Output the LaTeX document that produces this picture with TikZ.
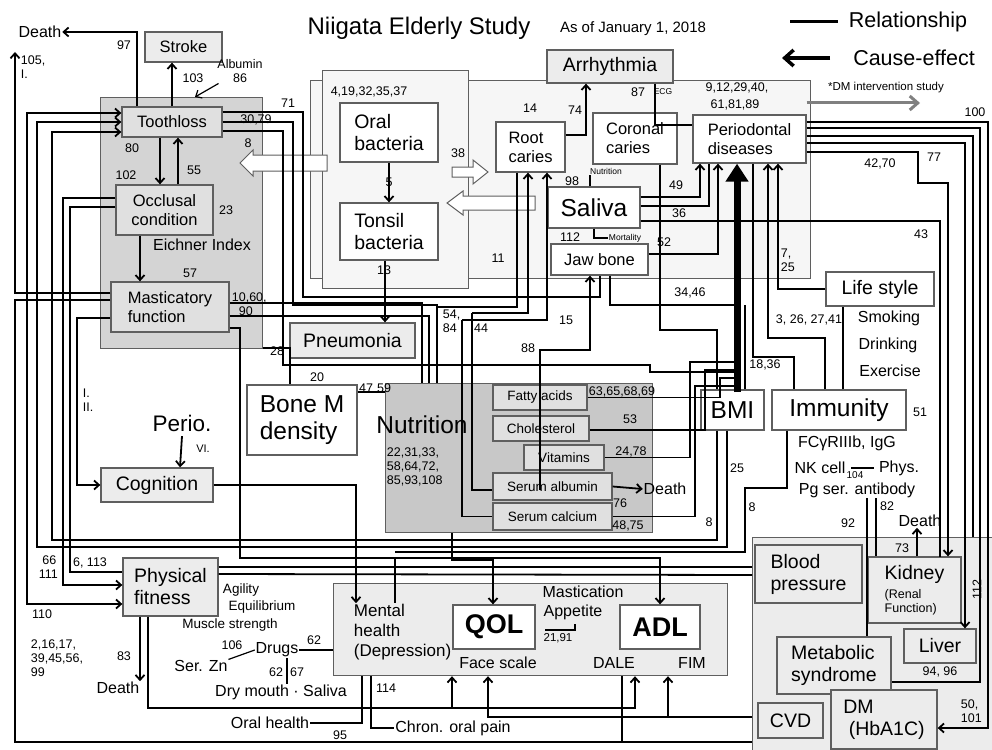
\documentclass[tikz,border=0pt]{standalone}
\usepackage{fontspec}
\setmainfont{Liberation Sans}
\usetikzlibrary{arrows.meta, positioning, calc}
\definecolor{panelgray}{RGB}{212,212,212}
\definecolor{boxgray}{RGB}{224,224,224}
\definecolor{lightfill}{RGB}{236,236,236}
\definecolor{palefill}{RGB}{246,246,246}
\definecolor{nutgray}{RGB}{200,200,200}
\definecolor{edgegray}{RGB}{95,95,95}

\begin{document}
\begin{tikzpicture}[x=1pt, y=-1pt, line width=1.8pt,
	>={Straight Barb[length=5pt,width=9pt]},
	box/.style={draw=edgegray, line width=1.3pt, fill=#1, inner sep=0pt, align=center},
	box/.default=white,
	panel/.style={draw=edgegray, line width=1.2pt, fill=#1, inner sep=0pt, anchor=north west},
	lbl/.style={inner sep=0pt, font=\fontsize{12.5}{14}\selectfont, align=left},
	tiny/.style={inner sep=0pt, font=\fontsize{8.5}{9}\selectfont},
	txt/.style={inner sep=0pt, font=\fontsize{16}{19}\selectfont, align=left},
	mid/.style={font=\fontsize{16.5}{19}\selectfont},
	big/.style={font=\fontsize{19.5}{22}\selectfont},
	huge/.style={font=\fontsize{24.5}{27}\selectfont},
	hollow/.style={draw=edgegray, line width=1pt, fill=white},
]
	\useasboundingbox (0,0) rectangle (992,749);

	% panels
	\node[panel=panelgray, minimum width=162, minimum height=251] (tpanel) at (100,97) {};
	\node[panel=palefill, minimum width=500, minimum height=198] (cpanel) at (310,80) {};
	\node[panel=palefill, minimum width=146, minimum height=218] (bpanel) at (322,70) {};
	\node[panel=nutgray, minimum width=267, minimum height=149] (npanel) at (385,383) {};
	\node[panel=lightfill, minimum width=394, minimum height=92] (qpanel) at (333,583) {};
	\node[panel=lightfill, minimum width=250, minimum height=220] (rpanel) at (752,537) {};

	% title and legend
	\node[inner sep=0pt, font=\fontsize{24}{26}\selectfont] (title) at (419,28) {Niigata Elderly Study};
	\node[inner sep=0pt, font=\fontsize{15}{17}\selectfont] (asof) at (633,29) {As of January 1, 2018};
	\node[inner sep=0pt, font=\fontsize{21.5}{24}\selectfont] (rel) at (908,22) {Relationship};
	\node[inner sep=0pt, font=\fontsize{21.5}{24}\selectfont] (cause) at (914,58) {Cause-effect};
	\coordinate (relA) at (790,22);
	\draw[line width=3pt] (relA) -- (rel.west -| 838,0);
	\draw[line width=3.5pt, -{Straight Barb[length=9pt,width=16pt]}] (cause.west -| 830,0) -- (782,58);
	\node[inner sep=0pt, font=\fontsize{11.5}{13}\selectfont] (dmint) at (886,88) {*DM intervention study};

	% boxes of the oral panel
	\node[box=boxgray, minimum width=100, minimum height=30, mid] (tooth) at (172,122) {Toothloss};
	\node[box=lightfill, minimum width=77, minimum height=30, mid] (stroke) at (183.5,47) {Stroke};
	\node[box=boxgray, minimum width=97, minimum height=50, mid] (occl) at (164.5,210) {Occlusal\\condition};
	\node[box=boxgray, minimum width=118, minimum height=50, mid, align=left] (mast) at (170,307) {Masticatory\\function};
	\node[box=lightfill, minimum width=112, minimum height=34, big] (cogn) at (157,485) {Cognition};
	\node[box=lightfill, minimum width=95, minimum height=58, big, align=left] (phys) at (170.5,587) {Physical\\fitness};
	\node[box=lightfill, minimum width=125, minimum height=35, big] (pneu) at (352.5,340.5) {Pneumonia};
	\node[box, minimum width=110, minimum height=70, huge, align=left] (bone) at (302,420) {Bone M\\density};
	\node[box, minimum width=98, minimum height=59, big, align=left] (oral) at (389,132.5) {Oral\\bacteria};
	\node[box, minimum width=98, minimum height=57, big, align=left] (tonsil) at (389,231.5) {Tonsil\\bacteria};
	\node[box=lightfill, minimum width=126, minimum height=33, big] (arrh) at (610,66.5) {Arrhythmia};
	\node[box, minimum width=69, minimum height=50, mid, align=left] (root) at (530.5,147) {Root\\caries};
	\node[box, minimum width=84, minimum height=51, mid, align=left] (coron) at (635,138.5) {Coronal\\caries};
	\node[box, minimum width=113, minimum height=48, mid, align=left] (perio) at (749.5,139) {Periodontal\\diseases};
	\node[box, minimum width=92, minimum height=41, huge] (saliva) at (594,207.5) {Saliva};
	\node[box, minimum width=97, minimum height=31, mid] (jaw) at (599.5,259.5) {Jaw bone};
	\node[box, minimum width=108, minimum height=34, big] (life) at (880,289) {Life style};
	\node[box, minimum width=63, minimum height=40, huge] (bmi) at (732.5,410) {BMI};
	\node[box, minimum width=134, minimum height=40, huge] (immun) at (839,410) {Immunity};
	\draw[gray, line width=3pt, -{Straight Barb[length=8pt,width=14pt]}] (perio.east |- 0,103) -- (920,103);

	% nutrition items
	\node[inner sep=0pt, huge] (nutr) at (422,425) {Nutrition};
	\node[lbl, anchor=north west] (nutnum) at (386,447) {22,31,33,\\58,64,72,\\85,93,108};
	\node[box=boxgray, minimum width=94, minimum height=25, font=\fontsize{13.5}{15}\selectfont] (fatty) at (540,397.5) {Fatty acids};
	\node[box=boxgray, minimum width=96, minimum height=25, font=\fontsize{13.5}{15}\selectfont] (chol) at (541,428.5) {Cholesterol};
	\node[box=boxgray, minimum width=80, minimum height=25, font=\fontsize{13.5}{15}\selectfont] (vitam) at (564,457.5) {Vitamins};
	\node[box=boxgray, minimum width=119, minimum height=27, font=\fontsize{13.5}{15}\selectfont] (album) at (552.5,486.5) {Serum albumin};
	\node[box=boxgray, minimum width=119, minimum height=27, font=\fontsize{13.5}{15}\selectfont] (calc) at (552.5,516.5) {Serum calcium};

	% outcome boxes
	\node[box, minimum width=82, minimum height=44, font=\bfseries\fontsize{27}{29}\selectfont] (qol) at (494,627) {QOL};
	\node[box, minimum width=80, minimum height=44, font=\bfseries\fontsize{27}{29}\selectfont] (adl) at (660,627) {ADL};
	\node[txt, anchor=west, font=\fontsize{17}{20}\selectfont] (mental) at (353,632) {Mental\\health\\(Depression)};

	% systemic boxes
	\node[box=lightfill, minimum width=107, minimum height=58, big, align=left] (blood) at (808.5,574) {Blood\\pressure};
	\node[box=lightfill, minimum width=93, minimum height=66, align=left, font=\fontsize{12.5}{14}\selectfont] (kidney) at (914.5,590) {{\fontsize{19.5}{22}\selectfont Kidney}\\[5pt](Renal\\Function)};
	\node[box=lightfill, minimum width=72, minimum height=34, big] (liver) at (940,646) {Liver};
	\node[box=lightfill, minimum width=114, minimum height=57, big, align=left] (metab) at (834,665.5) {Metabolic\\syndrome};
	\node[box=lightfill, minimum width=106, minimum height=59, big, align=left] (dm) at (884,719.5) {DM\\\ (HbA1C)};
	\node[box=lightfill, minimum width=65, minimum height=35, big] (cvd) at (790.5,720.5) {CVD};

	% hollow arrows
	\draw[hollow] (452,167) -- (473,167) -- (473,160) -- (488,172) -- (473,184) -- (473,177) -- (452,177) -- cycle;
	\draw[hollow] (535,196) -- (463,196) -- (463,191) -- (447,203) -- (463,215) -- (463,210) -- (535,210) -- cycle;
	\draw[hollow] (327,155) -- (253,155) -- (253,150) -- (240,163) -- (253,176) -- (253,171) -- (327,171) -- cycle;

	% free texts
	\node[txt] (dA) at (40,32) {Death};
	\coordinate (dAup) at (15,52);
	\node[lbl] at (124,45) {97};
	\node[lbl] at (193,78) {103};
	\node[lbl, align=center] (alb) at (240,71) {Albumin\\86};
	\node[lbl, anchor=north west] at (20,55) {105,\\I.};
	\node[lbl] at (288,103) {71};
	\node[lbl] at (256,120) {30,79};
	\node[lbl] at (248,143) {8};
	\node[lbl] at (132,148) {80};
	\node[lbl] at (126,175) {102};
	\node[lbl] at (194,170) {55};
	\node[lbl] at (226,210) {23};
	\node[txt] at (202,245) {Eichner Index};
	\node[lbl] at (190,273) {57};
	\node[lbl, anchor=north west] at (231,292) {10,60,\\\ \ 90};
	\node[lbl] at (277,351) {28};
	\node[lbl, anchor=north west] at (82,388) {I.\\II.};
	\node[inner sep=0pt, font=\fontsize{22.5}{25}\selectfont] (perioT) at (182,423) {Perio.};
	\node[lbl, font=\fontsize{11}{12}\selectfont] at (203,449) {VI.};
	\node[lbl] at (369,92) {4,19,32,35,37};
	\node[lbl] at (389,182) {5};
	\node[lbl] at (384,270) {13};
	\node[lbl] at (458,153) {38};
	\node[lbl] at (498,258) {11};
	\node[lbl] at (530,108) {14};
	\node[lbl] at (575,110) {74};
	\node[lbl] at (638,92) {87};
	\node[tiny] at (663,92) {ECG};
	\node[lbl] at (737,88) {9,12,29,40,};
	\node[lbl] at (735,105) {61,81,89};
	\node[lbl] at (572,181) {98};
	\node[tiny] (nutS) at (606,171) {Nutrition};
	\node[lbl] at (570,237) {112};
	\node[tiny] (mortS) at (625,238) {Mortality};
	\node[lbl] at (676,185) {49};
	\node[lbl] at (679,213) {36};
	\node[lbl] at (664,242) {52};
	\node[lbl] at (975,112) {100};
	\node[lbl] at (934,157) {77};
	\node[lbl] at (880,164) {42,70};
	\node[lbl] at (921,234) {43};
	\node[lbl, anchor=north west] at (780,248) {7,\\25};
	\node[lbl] at (690,293) {34,46};
	\node[lbl] at (809,320) {3, 26, 27,41};
	\node[txt] at (889,318) {Smoking};
	\node[txt] at (888,345) {Drinking};
	\node[txt] at (890,371) {Exercise};
	\node[lbl] at (765,365) {18,36};
	\node[lbl] at (920,412) {51};
	\node[lbl] at (737,468) {25};
	\node[txt] at (847,443) {FCγRIIIb, IgG};
	\node[txt] (nk) at (820,468) {NK cell};
	\node[lbl, font=\fontsize{10}{11}\selectfont] (n104) at (855,475) {104};
	\node[txt] (physT) at (899,468) {Phys.};
	\draw[line width=1.2pt] ([xshift=5pt]nk.east) -- ([xshift=-4pt]physT.west);
	\node[txt] (pgab) at (857,490) {Pg ser. antibody};
	\node[lbl] at (887,506) {82};
	\node[lbl] at (848,523) {92};
	\node[lbl] at (902,548) {73};
	\node[txt] (dK) at (920,521) {Death};
	\node[lbl, rotate=90] at (977,590) {112};
	\node[lbl] at (940,672) {94, 96};
	\node[lbl, anchor=north west] at (960,699) {50,\\101};
	\node[lbl, anchor=north west] at (442,309) {54,\\84};
	\node[lbl] at (481,328) {44};
	\node[lbl] at (528,348) {88};
	\node[lbl] at (566,320) {15};
	\node[lbl] at (317,377) {20};
	\node[lbl] at (366,388) {47};
	\node[lbl] at (384,388) {59};
	\node[lbl] at (622,392) {63,65,68,69};
	\node[lbl] at (630,419) {53};
	\node[lbl] at (631,452) {24,78};
	\node[lbl] at (620,503) {76};
	\node[lbl] at (628,526) {48,75};
	\node[txt] (dN) at (665,489) {Death};
	\node[lbl] at (709,522) {8};
	\node[lbl] at (752,507) {8};
	\node[txt] at (583,592) {Mastication};
	\node[txt] at (573,612) {Appetite};
	\node[lbl, font=\fontsize{11.5}{13}\selectfont] at (558,638) {21,91};
	\draw[line width=1.2pt] (545,630) -- (575,630) -- (575,624);
	\node[txt] at (498,663) {Face scale};
	\node[txt] at (614,663) {DALE};
	\node[txt] at (692,663) {FIM};
	\node[lbl, font=\fontsize{13.5}{15}\selectfont] at (241,590) {Agility};
	\node[lbl, font=\fontsize{13.5}{15}\selectfont] at (262,607) {Equilibrium};
	\node[lbl, font=\fontsize{13.5}{15}\selectfont] at (230,625) {Muscle strength};
	\node[lbl] at (232,645) {106};
	\node[txt] (drugs) at (277,650) {Drugs};
	\node[txt] (zn) at (201,666) {Ser. Zn};
	\node[lbl] at (314,640) {62};
	\node[lbl] at (276,672) {62};
	\node[lbl] at (297,672) {67};
	\node[txt] (dry) at (281,692) {Dry mouth · Saliva};
	\node[lbl] at (124,656) {83};
	\node[txt] (dP) at (118,688) {Death};
	\node[lbl, anchor=north west] at (30,639) {2,16,17,\\39,45,56,\\99};
	\node[lbl] at (42,614) {110};
	\node[lbl, anchor=north west] at (38,555) {\ 66\\111};
	\node[lbl] at (90,563) {6, 113};
	\node[lbl] at (386,688) {114};
	\node[txt] (oralh) at (270,723) {Oral health};
	\node[lbl] at (340,735) {95};
	\node[txt] (pain) at (453,728) {Chron. oral pain};

	% connectors: oral panel
	\draw[->] (tooth.north -| 137,0) |- (dA.east);
	\draw[->] (tooth.north -| 172,0) -- (stroke.south -| 172,0);
	\draw[->, line width=1.2pt] ([xshift=2pt]alb.south west) -- (tpanel.north -| 195,0);
	\draw[->] (tooth.south -| 160,0) -- (occl.north -| 160,0);
	\draw[->] (occl.north -| 178,0) -- (tooth.south -| 178,0);
	\draw[->] (occl.south -| 140,0) -- (mast.north -| 140,0);
	\draw[->] ([yshift=-4pt]perioT.south) -- (cogn.north -| 180,0);
	\draw[->] (mast.west |- 0,293) -| (dAup);
	\draw (mast.west |- 0,300) -| (15,742) -- (rpanel.west |- 0,742);
	\draw[<->] (tooth.west |- 0,113) -| (27,604) -- (phys.west |- 0,604);
	\draw[->] (bmi.south -| 727,0) |- (37,547) |- (tooth.west |- 0,122);
	\draw[->] (bmi.south -| 717,0) |- (52,540) |- (tooth.west |- 0,132);
	\draw[->] (occl.west |- 0,198) -| (63,585) -- (phys.west |- 0,585);
	\draw (occl.west |- 0,207) -| (70,572) -- (phys.west |- 0,572);
	\draw[->] (mast.west |- 0,318) -| (77,485) -- (cogn.west |- 0,485);

	% toothloss and mastication to the middle
	\draw (tooth.east |- 0,112) -| (303,297) -| (jaw.south -| 600,0);
	\draw (tooth.east |- 0,122) -| (293,305) -| (npanel.north -| 437,0);
	\draw (tooth.east |- 0,131) -| (283,365) -- (650,365) |- (735,372);
	\draw (mast.east |- 0,303) -| (npanel.north -| 422,0);
	\draw (mast.east |- 0,316) -| (npanel.north -| 429,0);
	\draw (mast.east |- 0,328) -| (240,558) -| (mental.north -| 395,0);
	\draw[->] (395,558) -| (adl.north -| 660,0);
	\draw (tpanel.east |- 0,348) -- (290,348) -- (bone.north -| 290,0);
	\draw (bone.east |- 0,392) -- (npanel.west |- 0,392);
	\draw[->] (cogn.east) -| (mental.north -| 356,0);

	% bacteria and caries
	\draw[->] (oral.south) -- (tonsil.north);
	\draw[->] (tonsil.south -| 385,0) -- (pneu.north -| 385,0);
	\draw (root.south -| 517,0) |- (437,307);
	\draw[->] (472,313) -| (root.south -| 528,0);
	\draw (472,313) |- (album.west |- 0,490);
	\draw[->] (462,320) -| (root.south -| 547,0);
	\draw (462,320) |- (calc.west);
	\draw[->] (root.east |- 0,135) -| (arrh.south -| 586,0);
	\draw (coron.south -| 660,0) |- (717,330) -- (bmi.north -| 717,0);
	\draw (arrh.south -| 655,0) |- (perio.west |- 0,125);
	\draw (saliva.north -| 590,0) -- (nutS.south -| 590,0);
	\draw (saliva.south -| 594,0) |- (mortS.west);
	\draw[->] (saliva.east |- 0,197) -| (perio.south -| 700,0);
	\draw (saliva.east |- 0,206) -| (perio.south -| 709,0);
	\draw (saliva.east |- 0,221) -| (940,557);
	\draw[->] (jaw.east |- 0,254) -| (perio.south -| 718,0);
	\draw (jaw.south -| 610,0) |- (735,305);
	\draw[->] (540,490) |- (590,350) -- (jaw.south -| 590,0);

	% periodontal to systemic
	\draw[line width=7pt, -{Triangle[length=18pt,width=22pt]}] (737,392) -- (perio.south -| 737,0);
	\draw (perio.south -| 753,0) |- (794,357) -- (immun.north -| 794,0);
	\draw[->] (immun.north -| 825,0) |- (768,338) -- (perio.south -| 768,0);
	\draw[->] (life.west) -| (perio.south -| 778,0);
	\draw (immun.north -| 843,0) -- (life.south -| 843,0);
	\draw (bmi.north -| 745,0) -- (745,305);
	\draw[->] (perio.east |- 0,122) -| (988,728) -- (dm.east |- 0,728);
	\draw (perio.east |- 0,128) -| (980,682) -- (metab.east |- 0,682);
	\draw (perio.east |- 0,136) -| (973,537);
	\draw[->] (perio.east |- 0,143) -| (liver.north -| 965,0);
	\draw[->] (perio.east |- 0,152) -| (918,183) -| (kidney.north -| 948,0);
	\draw[->] (kidney.north -| 917,0) -- (dK.south -| 917,0);
	\draw (pgab.south -| 876,0) -- (kidney.north -| 876,0);
	\draw (pgab.south -| 867,0) -- (metab.north -| 867,0);
	\draw (immun.south -| 787,0) |- (745,488) |- (395,552);

	% nutrition to periodontal and outcomes
	\draw (fatty.east) -| (720,378) -- (735,378);
	\draw (chol.east |- 0,430) -| (705,370) -- (735,370);
	\draw (vitam.east) -| (690,362) -- (735,362);
	\draw (calc.east) -| (695,386) -- (735,386);
	\draw[->] (album.east) -- (dN.west);
	\draw[->] (npanel.south -| 452,0) |- (493,560) -- (qol.north -| 493,0);

	% lower part
	\draw[->] (phys.south -| 140,0) -- (dP.north -| 140,0);
	\draw[->] (phys.south -| 148,0) |- (635,708) -- (qpanel.south -| 635,0);
	\draw[->] (452,708) -- (qpanel.south -| 452,0);
	\draw[->] (rpanel.west |- 0,717) -| (qpanel.south -| 488,0);
	\draw[->] (668,717) -- (qpanel.south -| 668,0);
	\draw (qpanel.south -| 622,0) -- (622,742);
	\draw (qpanel.south -| 362,0) |- (oralh.east);
	\draw (qpanel.south -| 371,0) |- (pain.west);
	\draw (drugs.east) -- (qpanel.west |- drugs.east);
	\draw[line width=1.2pt] (zn.north east) -- (drugs.west);
	\draw[line width=1.2pt] (drugs.south -| 287,0) -- (dry.north -| 287,0);
	\draw (phys.east |- 0,567) -- (rpanel.west |- 0,567);
	\draw (phys.east |- 0,574) -- (rpanel.west |- 0,575);
\end{tikzpicture}
\end{document}
